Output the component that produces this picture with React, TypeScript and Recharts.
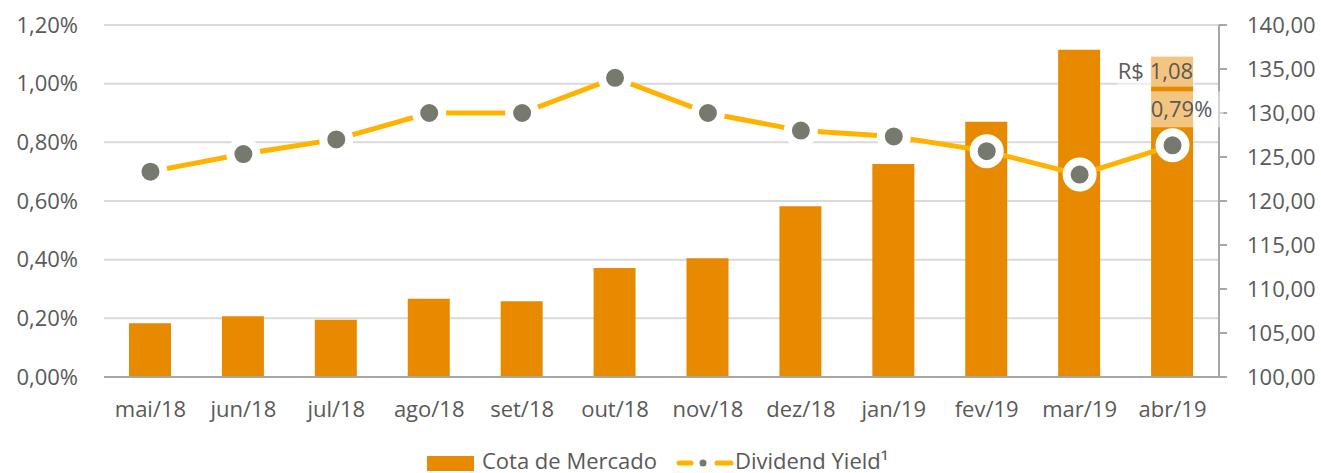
import React from "react";
import {
  ComposedChart,
  Bar,
  Line,
  XAxis,
  YAxis,
  CartesianGrid,
  LabelList,
} from "recharts";

const months = [
  "mai/18",
  "jun/18",
  "jul/18",
  "ago/18",
  "set/18",
  "out/18",
  "nov/18",
  "dez/18",
  "jan/19",
  "fev/19",
  "mar/19",
  "abr/19",
];

// Cota de Mercado (R$) - eixo da direita
const cotaMercado = [106.1, 106.9, 106.5, 108.9, 108.6, 112.4, 113.5, 119.4, 124.2, 129.0, 137.2, 136.4];

// Dividend Yield (%) - eixo da esquerda
const dividendYield = [0.7, 0.76, 0.81, 0.9, 0.9, 1.02, 0.9, 0.84, 0.82, 0.77, 0.69, 0.79];

const yieldTicks = [0, 0.2, 0.4, 0.6, 0.8, 1.0, 1.2];
const cotaTicks = [100, 105, 110, 115, 120, 125, 130, 135, 140];

const ultimoRendimento = "R$ 1,08";

const data = months.map((m, i) => ({
  month: m,
  cota: cotaMercado[i],
  dy: dividendYield[i],
}));

const BAR = "#E88A00";
const LINE = "#FFB200";
const DOT = "#767A6E";
const TEXT = "#595959";
const FONT = "'Open Sans', sans-serif";
const last = months.length - 1;

const pct = (v: number) => v.toFixed(2).replace(".", ",") + "%";
const brl = (v: number) => v.toFixed(2).replace(".", ",");

function BarLabel(props: any) {
  const { x, y, width, index } = props;
  if (index !== last) return null;
  const right = x + width;
  return (
    <g>
      <rect x={right - 76} y={y} width={78} height={30} fill="#fff" fillOpacity={0.5} />
      <text
        x={right}
        y={y + 15}
        dy="0.355em"
        textAnchor="end"
        fill={TEXT}
        fontSize={22}
        fontFamily={FONT}
      >
        {ultimoRendimento}
      </text>
    </g>
  );
}

function LineLabel(props: any) {
  const { x, y, value, index } = props;
  if (index !== last) return null;
  const cx = x + 9;
  const cy = y - 36;
  return (
    <g>
      <rect x={cx - 38} y={cy - 18} width={80} height={36} fill="#fff" fillOpacity={0.5} />
      <text
        x={cx}
        y={cy}
        dy="0.355em"
        textAnchor="middle"
        fill={TEXT}
        fontSize={22}
        fontFamily={FONT}
      >
        {pct(value)}
      </text>
    </g>
  );
}

function LegendBox() {
  return (
    <svg
      width={1321}
      height={473}
      style={{ position: "absolute", left: 0, top: 0, pointerEvents: "none" }}
    >
      <rect x={427} y={456} width={47} height={15} fill={BAR} />
      <text x={482} y={469} fill={TEXT} fontSize={22} fontFamily={FONT}>
        Cota de Mercado
      </text>
      <line x1={679} y1={463} x2={691} y2={463} stroke={LINE} strokeWidth={5} strokeLinecap="round" />
      <circle cx={703} cy={463} r={3.5} fill={DOT} />
      <line x1={717} y1={463} x2={731} y2={463} stroke={LINE} strokeWidth={5} strokeLinecap="round" />
      <text x={735} y={469} fill={TEXT} fontSize={22} fontFamily={FONT}>
        Dividend Yield¹
      </text>
    </svg>
  );
}

export default function App() {
  return (
    <div style={{ position: "absolute", left: 0, top: 0, width: 1321, height: 473, background: "#fff" }}>
      <ComposedChart
        width={1321}
        height={473}
        data={data}
        margin={{ top: 25, right: 0, left: 0, bottom: 66 }}
      >
        <CartesianGrid yAxisId="left" vertical={false} stroke="#D9D9D9" strokeWidth={2} />
        <XAxis
          dataKey="month"
          height={30}
          axisLine={{ stroke: "#A6A6A6", strokeWidth: 2 }}
          tickLine={false}
          tickSize={0}
          tickMargin={24}
          interval={0}
          tick={{ fill: TEXT, fontSize: 22, fontFamily: FONT }}
        />
        <YAxis
          yAxisId="left"
          orientation="left"
          width={104}
          domain={[0, 1.2]}
          ticks={yieldTicks}
          tickFormatter={pct}
          axisLine={false}
          tickLine={false}
          tickSize={0}
          tickMargin={26}
          tick={{ fill: TEXT, fontSize: 22, fontFamily: FONT }}
        />
        <YAxis
          yAxisId="right"
          orientation="right"
          width={102}
          domain={[100, 140]}
          ticks={cotaTicks}
          tickFormatter={brl}
          axisLine={{ stroke: "#A6A6A6", strokeWidth: 2 }}
          tickLine={{ stroke: "#A6A6A6", strokeWidth: 2 }}
          tickSize={8}
          tickMargin={20}
          tick={{ fill: TEXT, fontSize: 22, fontFamily: FONT, textAnchor: "start" }}
        />
        <Bar yAxisId="right" dataKey="cota" fill={BAR} barSize={42} isAnimationActive={false}>
          <LabelList dataKey="cota" content={BarLabel} />
        </Bar>
        <Line
          yAxisId="left"
          dataKey="dy"
          stroke={LINE}
          strokeWidth={5}
          dot={{ r: 13, fill: DOT, stroke: "#fff", strokeWidth: 8 }}
          activeDot={false}
          isAnimationActive={false}
        >
          <LabelList dataKey="dy" content={LineLabel} />
        </Line>
      </ComposedChart>
      <LegendBox />
    </div>
  );
}
